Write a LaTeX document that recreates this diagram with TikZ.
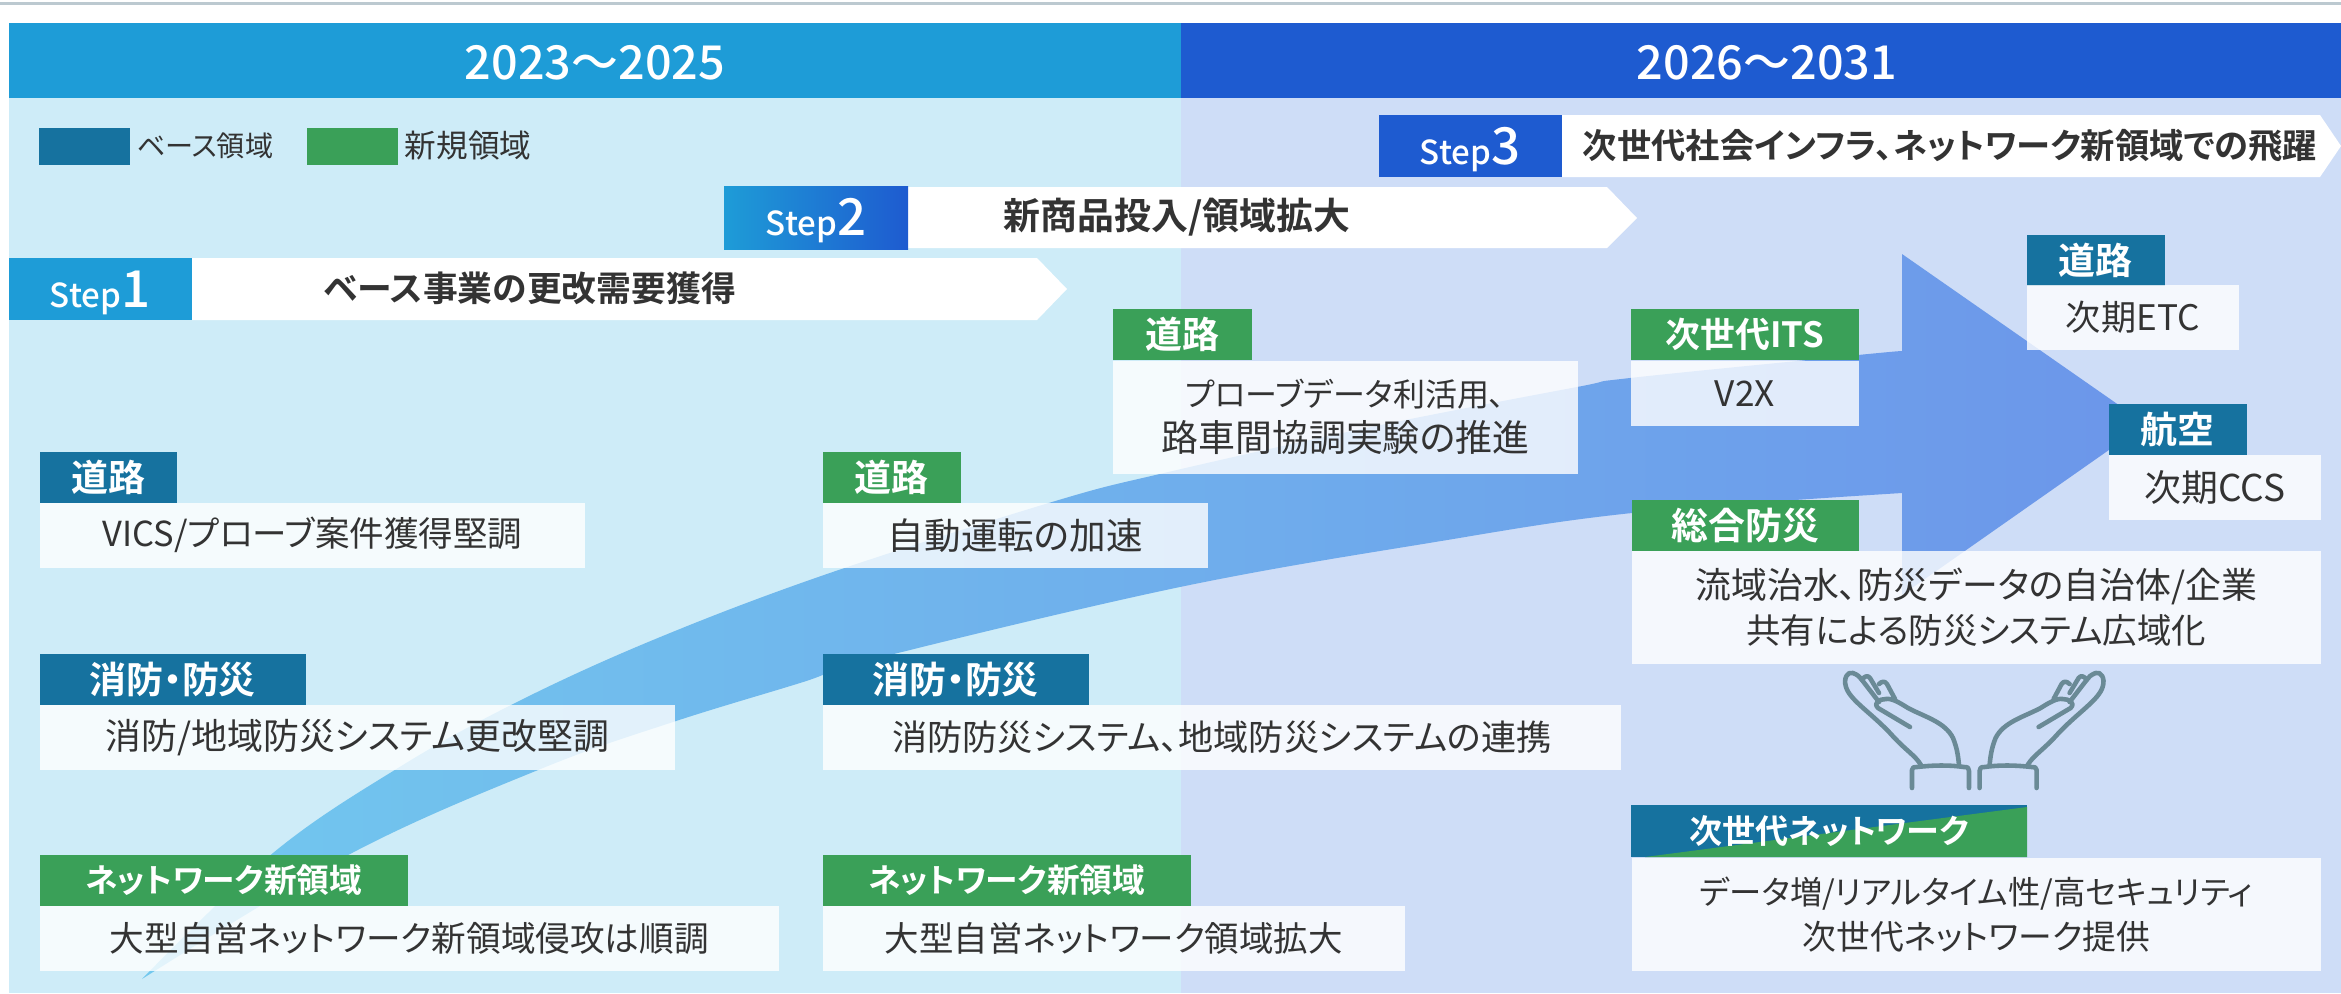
\documentclass[tikz,border=0pt]{standalone}
\usepackage{fontspec}
\setmainfont{Noto Sans CJK JP}[RawFeature=+palt,BoldFont={Noto Sans CJK JP Medium}]
\newfontfamily\heavy{Noto Sans CJK JP Bold}[RawFeature=+palt]
\usetikzlibrary{positioning}
\definecolor{headL}{HTML}{1E9CD7}
\definecolor{headR}{HTML}{1E5BD0}
\definecolor{bgL}{HTML}{CEECF8}
\definecolor{bgR}{HTML}{CEDDF7}
\definecolor{baseC}{HTML}{16729F}
\definecolor{newC}{HTML}{3AA058}
\definecolor{handC}{HTML}{6A8A96}
\definecolor{textC}{HTML}{333333}
\definecolor{ruleC}{HTML}{BCC9D0}
\definecolor{arrowL}{HTML}{72C8EE}
\definecolor{arrowR}{HTML}{6C96EA}
\newcommand{\fs}[1]{\fontsize{#1}{12.8}\selectfont}
\tikzset{
  tagbase/.style={anchor=north west,inner sep=0pt,minimum height=0.51cm,fill=baseC,text=white,font=\fs{10.5}\heavy},
  tagnew/.style={tagbase,fill=newC},
  infobox/.style={anchor=north west,inner sep=0pt,minimum height=0.65cm,fill=white,fill opacity=0.8,text opacity=1,text=textC,align=center,font=\fs{10}},
  steptext/.style={text=white,anchor=base,inner sep=0pt,font=\bfseries},
  bandtext/.style={text=textC,inner sep=0pt,font=\fs{10.5}\heavy},
  headtext/.style={text=white,inner sep=0pt,font=\fs{13.3}\bfseries},
  legendtext/.style={text=textC,inner sep=0pt,font=\fs{9}},
  handline/.style={draw=handC,line width=1.3pt,line cap=round,line join=round},
}
\newcommand{\stepword}[1]{{\fontsize{9.4}{10}\selectfont Step}{\fontsize{14.5}{14}\selectfont #1}}
\begin{document}
\begin{tikzpicture}[line cap=butt,x=0.01cm,y=-0.01cm]
\useasboundingbox (0,0) rectangle (2341,993);
%top rule
\fill[ruleC] (0,2) rectangle (2341,5);
%periods
\fill[bgL] (9,98) rectangle (1181,993);
\fill[bgR] (1181,98) rectangle (2341,993);
\fill[headL] (9,23) rectangle (1181,98);
\fill[headR] (1181,23) rectangle (2341,98);
\node[headtext] (head1) at (595,63) {2023～2025};
\node[headtext] (head2) at (1767,63) {2026～2031};
%legend
\fill[baseC] (39,128) rectangle (130,165);
\node[legendtext,font=\fs{8}] (legend1) at (205,146) {ベース領域};
\fill[newC] (307,128) rectangle (398,165);
\node[legendtext] (legend2) at (468,146) {新規領域};
%big arrow
\shade[left color=arrowL,right color=arrowR]
  plot[smooth,tension=0.6] coordinates {(142,979) (273,853) (398,768) (515,703) (653,640) (824,575) (1052,502) (1164,473) (1371,427) (1577,387) (1630,378) (1858,355) (1902,351)}
  -- (1902,254) -- (2146,424) -- (1902,595)
  -- plot[smooth,tension=0.6] coordinates {(1902,493) (1632,513) (1429,543) (1180,587) (882,657) (800,683) (673,722) (543,768) (352,853) (142,979)}
  -- cycle;
%steps
\fill[white] (192,258) -- (1037,258) -- (1067,289) -- (1037,320) -- (192,320) -- cycle;
\fill[headL] (9,258) rectangle (192,320);
\node[steptext] (step1) at (100,307) {\stepword{1}};
\node[bandtext,font=\fs{9.9}\heavy] (band1) at (530,288) {ベース事業の更改需要獲得};
\fill[white] (908,187) -- (1607,187) -- (1637,218) -- (1607,248) -- (908,248) -- cycle;
\shade[left color=headL,right color=headR] (724,186) rectangle (908,249);
\node[steptext] (step2) at (816,235) {\stepword{2}};
\node[bandtext] (band2) at (1177,217) {新商品投入/領域拡大};
\fill[white] (1562,115) -- (2320,115) -- (2341,146) -- (2320,177) -- (1562,177) -- cycle;
\fill[headR] (1379,115) rectangle (1562,177);
\node[steptext] (step3) at (1470,164) {\stepword{3}};
\node[bandtext,font=\fs{9.75}\heavy] (band3) at (1950,146) {次世代社会インフラ、ネットワーク新領域での飛躍};
%left column
\node[tagbase,minimum width=1.37cm] (road1) at (39,451) {道路};
\node[infobox,minimum width=5.45cm] (road1b) at (39,502) {{\fs{9.8}VICS/プローブ案件獲得堅調}};
\node[tagbase,minimum width=2.66cm] (fire1) at (39,653) {消防・防災};
\node[infobox,minimum width=6.35cm] (fire1b) at (39,704) {{\fs{10.2}消防/地域防災システム更改堅調}};
\node[tagnew,minimum width=3.68cm,font=\fs{9.3}\heavy] (net1) at (39,854) {ネットワーク新領域};
\node[infobox,minimum width=7.39cm] (net1b) at (39,905) {{\fs{9.85}大型自営ネットワーク新領域侵攻は順調}};
%middle column
\node[tagnew,minimum width=1.38cm] (road2) at (822,451) {道路};
\node[infobox,minimum width=3.85cm] (road2b) at (822,502) {{\fs{10.4}自動運転の加速}};
\node[tagbase,minimum width=2.66cm] (fire2) at (822,653) {消防・防災};
\node[infobox,minimum width=7.98cm] (fire2b) at (822,704) {消防防災システム、地域防災システムの連携};
\node[tagnew,minimum width=3.68cm,font=\fs{9.3}\heavy] (net2) at (822,854) {ネットワーク新領域};
\node[infobox,minimum width=5.82cm] (net2b) at (822,905) {{\fs{9.8}大型自営ネットワーク領域拡大}};
\node[tagnew,minimum width=1.39cm] (road3) at (1112,308) {道路};
\node[infobox,minimum width=4.65cm,minimum height=1.13cm] (road3b) at (1112,360) {{\fs{9.1}プローブデータ利活用、}\\{\fs{10.5}路車間協調実験の推進}};
%right column
\node[tagnew,minimum width=2.28cm,font=\fs{9.9}\heavy] (its) at (1630,308) {次世代ITS};
\node[infobox,minimum width=2.28cm] (itsb) at (1630,360) {V2X};
\node[tagbase,minimum width=1.38cm] (road4) at (2026,234) {道路};
\node[infobox,minimum width=2.12cm] (road4b) at (2026,284) {次期ETC};
\node[tagbase,minimum width=1.38cm] (air) at (2108,403) {航空};
\node[infobox,minimum width=2.12cm] (airb) at (2108,454) {{\fs{10.5}次期CCS}};
\node[tagnew,minimum width=2.27cm] (bosai) at (1631,499) {総合防災};
\node[infobox,minimum width=6.89cm,minimum height=1.13cm] (bosaib) at (1631,550) {{\fs{10.2}流域治水、防災データの自治体/企業}\\{\fs{9.8}共有による防災システム広域化}};
%two coloured tag
\fill[baseC] (1631,805) rectangle (2027,857);
\fill[newC] (1645,857) -- (2027,807) -- (2027,857) -- cycle;
\node[text=white,inner sep=0pt,font=\fs{9.4}\heavy] (net3) at (1829,831) {次世代ネットワーク};
\node[infobox,minimum width=6.89cm,minimum height=1.13cm] (net3b) at (1631,857) {{\fs{9.2}データ増/リアルタイム性/高セキュリティ}\\{\fs{9.6}次世代ネットワーク提供}};
%hands
\foreach \s/\d in {1/0,-1/3948.6}
{
  \begin{scope}[xshift=\d*0.01cm,xscale=\s]
  \draw[handline] (1921,765) .. controls (1915,755) and (1905,750) .. (1890,733)
    .. controls (1870,712) and (1850,700) .. (1846,687)
    .. controls (1843,678) and (1848,671) .. (1853,673)
    .. controls (1858,675) and (1860,677) .. (1862,680) -- (1879,702);
  \draw[handline] (1862,680) .. controls (1864,676) and (1868,675) .. (1870,678) -- (1879,693);
  \draw[handline] (1879,684) .. controls (1882,681) and (1885,681) .. (1887,684) -- (1895,699);
  \draw[handline] (1910,727) -- (1878,708) .. controls (1873,703) and (1879,699) .. (1886,699)
    .. controls (1892,698) and (1900,703) .. (1908,708)
    .. controls (1925,717) and (1945,722) .. (1953,738)
    .. controls (1957,748) and (1958,755) .. (1959,765);
  \draw[handline] (1912,788) -- (1912,770) .. controls (1912,767) and (1914,767) .. (1917,767)
    .. controls (1935,765) and (1950,765) .. (1964,767) .. controls (1968,767) and (1969,768) .. (1969,771) -- (1969,788);
  \end{scope}
};
\end{tikzpicture}
\end{document}
